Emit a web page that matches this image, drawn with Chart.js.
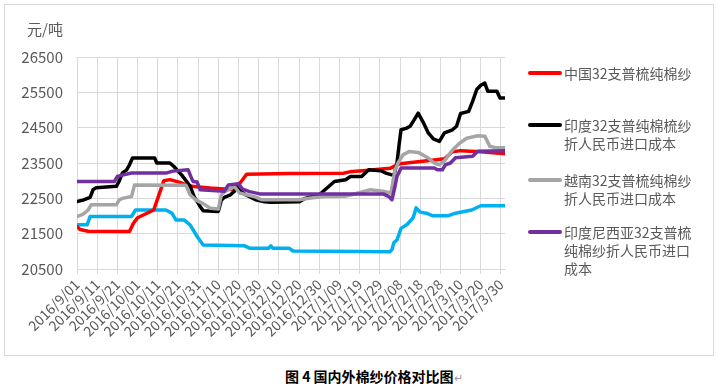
<!DOCTYPE html>
<html>
<head>
<meta charset="utf-8">
<script src="https://cdn.jsdelivr.net/npm/chart.js@4.4.1/dist/chart.umd.min.js"></script>
<style>
  body { margin: 0; background: #fff; font-family: "Noto Sans CJK SC", "Noto Sans", sans-serif; }
  #box { position: absolute; left: 4px; top: 4px; width: 708px; height: 350px; border: 1px solid #d9d9d9; }
  #legend { position: absolute; left: 0; top: 0; }
  .item { position: absolute; left: 523px; font-size: 14px; line-height: 18px; color: #595959; white-space: nowrap; }
  .swatch { position: absolute; left: 0; top: 7px; width: 34px; height: 4px; border-radius: 2px; }
  .txt { position: absolute; left: 36px; top: 0; }
  #caption { position: absolute; left: 285px; top: 366px; font-size: 14px; font-weight: bold; color: #000; white-space: nowrap; }
  #caption span { font-weight: normal; color: #999; font-size: 11px; }
</style>
</head>
<body>
<div id="box">
  <canvas id="chart" width="708" height="350"></canvas>
  <div id="legend"></div>
</div>
<div id="caption">图 4 国内外棉纱价格对比图<span>↵</span></div>
<script>
// x axis: days since 2016/9/01, labelled every 10 days
const tickDays = [0, 10, 20, 30, 40, 50, 60, 70, 80, 90, 100, 110, 120, 130, 140, 150, 160, 170, 180, 190, 200, 210];
const tickLabels = ['2016/9/01', '2016/9/11', '2016/9/21', '2016/10/01', '2016/10/11', '2016/10/21', '2016/10/31',
  '2016/11/10', '2016/11/20', '2016/11/30', '2016/12/10', '2016/12/20', '2016/12/30', '2017/1/09', '2017/1/19',
  '2017/1/29', '2017/2/08', '2017/2/18', '2017/2/28', '2017/3/10', '2017/3/20', '2017/3/30'];

const seriesNames = ['中国32支普梳纯棉纱', '印度32支普纯棉梳纱折人民币进口成本', '越南32支普梳纯棉纱折人民币进口成本',
  '印度尼西亚32支普梳纯棉纱折人民币进口成本', ''];

// China
const chinaDays = [0, 1.5, 5.5, 26, 28, 30, 38, 40, 43, 46, 51, 55, 59, 66, 78, 81, 84, 105, 132, 135, 143, 155, 160, 170, 178, 182, 186, 190, 200, 212];
const chinaValues = [21700, 21620, 21570, 21560, 21800, 21950, 22170, 22500, 23000, 23030, 22950, 22860, 22830, 22790, 22740, 22950, 23180, 23200, 23210, 23250, 23290, 23350, 23480, 23540, 23590, 23620, 23820, 23850, 23820, 23760];

// India
const indiaDays = [0, 3, 6.5, 8, 9.5, 19.5, 21, 22.5, 24.5, 26, 27.5, 38.5, 39.5, 46, 48, 52, 56, 58, 61, 62.5, 70, 71.5, 73, 76, 78, 79, 81, 83.5, 88.5, 93, 96, 110, 113, 120, 122, 127.5, 133, 135.5, 141, 144.5, 150.5, 153, 155.5, 157, 158.5, 159.5, 160.5, 163, 165, 167, 169, 171.5, 174, 176.5, 179.5, 182, 186, 188, 190, 194, 196, 198, 200, 202, 203.5, 208, 209.5, 212];
const indiaValues = [22410, 22450, 22530, 22750, 22800, 22840, 23000, 23220, 23300, 23450, 23640, 23640, 23500, 23500, 23400, 23150, 22850, 22550, 22270, 22150, 22130, 22450, 22530, 22600, 22700, 22830, 22700, 22600, 22460, 22400, 22390, 22400, 22500, 22600, 22700, 22975, 23025, 23120, 23120, 23310, 23280, 23215, 23170, 23150, 23500, 24000, 24440, 24480, 24540, 24720, 24910, 24650, 24350, 24180, 24110, 24350, 24440, 24540, 24900, 24960, 25250, 25580, 25700, 25760, 25530, 25530, 25340, 25340];

// Vietnam
const vietnamDays = [0, 3, 5.5, 7, 19.5, 21, 23, 27, 28.5, 54, 56, 59, 62.5, 66, 70, 71.5, 73.5, 78, 80.5, 88.5, 91.5, 110, 115, 122, 132.5, 136, 145, 151.5, 155.5, 157.5, 159, 161.5, 164.5, 169, 174, 177, 179.5, 182, 186, 189.5, 193, 198.5, 202, 204.5, 207.5, 212];
const vietnamValues = [21985, 22050, 22170, 22315, 22320, 22460, 22505, 22550, 22880, 22870, 22600, 22450, 22350, 22220, 22195, 22600, 22700, 22830, 22650, 22535, 22460, 22460, 22505, 22550, 22560, 22600, 22740, 22700, 22650, 23300, 23500, 23730, 23825, 23800, 23640, 23500, 23450, 23560, 23870, 24060, 24200, 24270, 24260, 23970, 23930, 23930];

// Indonesia
const indonesiaDays = [0, 18.5, 20, 22, 27, 44, 47.5, 55, 56.5, 57.5, 59.5, 61, 73, 75, 80, 82, 85.5, 90.5, 152, 154.5, 156, 157.5, 158.5, 160.5, 177, 178.5, 181, 182.5, 185, 187.5, 196, 198.5, 212];
const indonesiaValues = [22975, 22975, 23120, 23150, 23215, 23215, 23270, 23310, 23100, 22975, 22960, 22740, 22700, 22880, 22910, 22760, 22690, 22625, 22620, 22550, 22460, 22835, 23120, 23355, 23360, 23310, 23310, 23450, 23500, 23650, 23690, 23830, 23850];

// light blue series (no legend entry)
const blueDays = [0, 5, 6.5, 27, 29, 44, 47, 49, 53, 56, 57.5, 59.5, 62.5, 83, 85.5, 95, 96, 97, 105, 107, 155, 156, 157, 158.5, 160.5, 163.5, 166.5, 168, 170, 173, 176, 184, 187.5, 195.5, 200, 212];
const blueValues = [21750, 21750, 21985, 21985, 22170, 22170, 22080, 21890, 21890, 21750, 21610, 21420, 21180, 21155, 21090, 21090, 21155, 21090, 21090, 21010, 20990, 21050, 21250, 21325, 21650, 21760, 21950, 22230, 22110, 22080, 22010, 22010, 22080, 22170, 22290, 22290];

const legendLines = [
  ['中国32支普梳纯棉纱'],
  ['印度32支普纯棉梳纱', '折人民币进口成本'],
  ['越南32支普梳纯棉纱', '折人民币进口成本'],
  ['印度尼西亚32支普梳', '纯棉纱折人民币进口', '成本']
];

function pts(days, values) {
  return days.map((d, i) => ({ x: d, y: values[i] }));
}

function line(label, days, values, color, order) {
  return {
    label: label,
    data: pts(days, values),
    borderColor: color,
    backgroundColor: color,
    borderWidth: 3.5,
    pointRadius: 0,
    tension: 0,
    borderJoinStyle: 'round',
    borderCapStyle: 'round',
    order: order
  };
}

const unitLabel = {
  id: 'unitLabel',
  afterDraw(chart) {
    const ctx = chart.ctx;
    ctx.save();
    ctx.font = '15px "Noto Sans CJK SC"';
    ctx.fillStyle = '#595959';
    ctx.textAlign = 'right';
    ctx.textBaseline = 'middle';
    ctx.fillText('元/吨', chart.chartArea.left - 14, 24);
    ctx.restore();
  }
};

const chart = new Chart(document.getElementById('chart'), {
  type: 'line',
  data: {
    datasets: [
      line(seriesNames[0], chinaDays, chinaValues, '#ff0000', 4),
      line(seriesNames[1], indiaDays, indiaValues, '#000000', 3),
      line(seriesNames[2], vietnamDays, vietnamValues, '#a5a5a5', 2),
      line(seriesNames[3], indonesiaDays, indonesiaValues, '#7030a0', 1),
      line(seriesNames[4], blueDays, blueValues, '#00b0f0', 5)
    ]
  },
  options: {
    responsive: false,
    animation: false,
    layout: { padding: { top: 52, right: 208, bottom: 0, left: 0 } },
    plugins: { legend: { display: false }, tooltip: { enabled: false } },
    scales: {
      x: {
        type: 'linear',
        min: 0,
        max: 212,
        afterBuildTicks: (axis) => { axis.ticks = tickDays.map(v => ({ value: v })); },
        afterFit: (axis) => { axis.height = 86; },
        grid: { color: '#d9d9d9', tickLength: 5, drawTicks: true },
        border: { color: '#d9d9d9' },
        ticks: {
          autoSkip: false,
          maxRotation: 45,
          minRotation: 45,
          padding: 2,
          color: '#595959',
          font: { family: 'Noto Sans CJK SC', size: 14 },
          callback: (v) => tickLabels[tickDays.indexOf(v)]
        }
      },
      y: {
        min: 20500,
        max: 26500,
        afterFit: (axis) => { axis.width = 72; },
        grid: { color: '#d9d9d9', drawTicks: false },
        border: { color: '#d9d9d9' },
        ticks: {
          stepSize: 1000,
          padding: 14,
          color: '#595959',
          font: { family: 'Noto Sans CJK SC', size: 15 },
          callback: (v) => String(v)
        }
      }
    }
  },
  plugins: [unitLabel]
});

// legend on the right, multi-line labels
const tops = [59, 111, 166, 218];
const legend = document.getElementById('legend');
legendLines.forEach((lines, i) => {
  const item = document.createElement('div');
  item.className = 'item';
  item.style.top = tops[i] + 'px';
  const sw = document.createElement('div');
  sw.className = 'swatch';
  sw.style.background = chart.data.datasets[i].borderColor;
  const txt = document.createElement('div');
  txt.className = 'txt';
  txt.innerHTML = lines.join('<br>');
  item.appendChild(sw);
  item.appendChild(txt);
  legend.appendChild(item);
});
</script>
</body>
</html>
